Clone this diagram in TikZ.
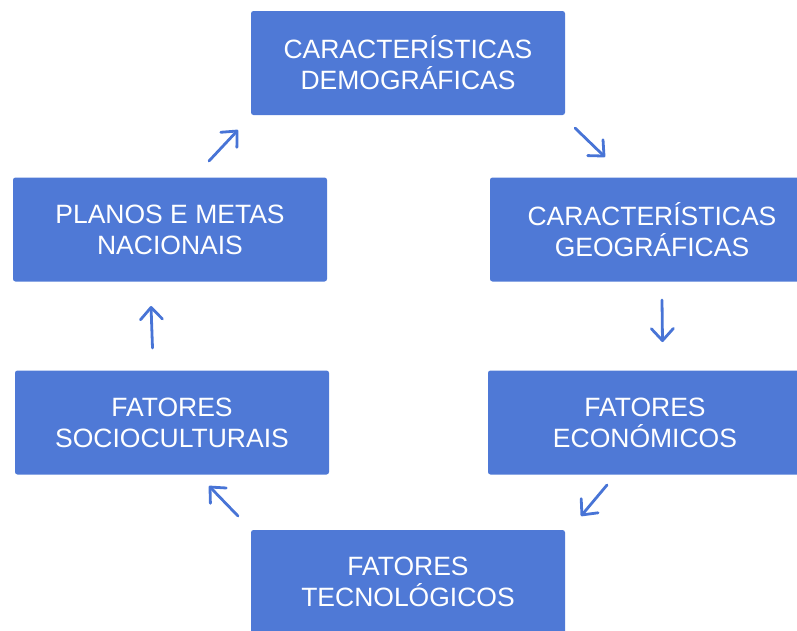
\documentclass[tikz,border=0pt]{standalone}
\usepackage{fontspec}
\setmainfont{Liberation Sans}
\usetikzlibrary{arrows.meta}
\definecolor{boxblue}{RGB}{79,121,214}
\definecolor{arrowblue}{RGB}{72,116,214}
\begin{document}
\begin{tikzpicture}[x=1pt,y=-1pt,
  box/.style={fill=boxblue, rounded corners=2.5pt, minimum width=314pt, minimum height=104pt,
    inner sep=0pt, align=center, text=white, font=\fontsize{26.5}{31}\selectfont},
  link/.style={draw=arrowblue, line width=2.8pt, line cap=round,
    -{Straight Barb[length=12pt,width=22pt,line cap=round,line join=round]}}]
\useasboundingbox (0,0) rectangle (797,630);
\node[box] (demo) at (408,63) {CARACTERÍSTICAS\\DEMOGRÁFICAS};
\node[box, minimum width=324pt] (geo) at (652,229.5) {CARACTERÍSTICAS\\GEOGRÁFICAS};
\node[box] (econ) at (645,422.5) {FATORES\\ECONÓMICOS};
\node[box] (tec) at (408,582) {FATORES\\TECNOLÓGICOS};
\node[box] (socio) at (172,422.5) {FATORES\\SOCIOCULTURAIS};
\node[box] (planos) at (170,229.5) {PLANOS E METAS\\NACIONAIS};
\coordinate (a1s) at (575,128); \coordinate (a1e) at (605,157);
\coordinate (a2s) at (662,300); \coordinate (a2e) at (662.5,342);
\coordinate (a3s) at (607,485); \coordinate (a3e) at (581,516);
\coordinate (a4s) at (238,516); \coordinate (a4e) at (209,486);
\coordinate (a5s) at (152.5,348); \coordinate (a5e) at (151,306);
\coordinate (a6s) at (209,161); \coordinate (a6e) at (238,130);
\draw[link] (a1s) -- (a1e);
\draw[link] (a2s) -- (a2e);
\draw[link] (a3s) -- (a3e);
\draw[link] (a4s) -- (a4e);
\draw[link] (a5s) -- (a5e);
\draw[link] (a6s) -- (a6e);
\end{tikzpicture}
\end{document}
